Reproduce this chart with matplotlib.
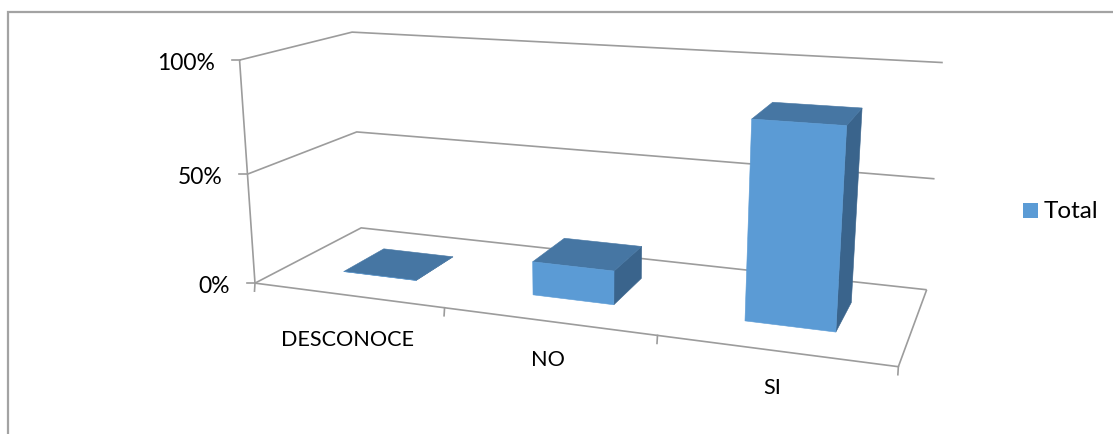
import matplotlib
matplotlib.use("Agg")
import matplotlib.pyplot as plt
from matplotlib.patches import Polygon, Rectangle
import numpy as np

categories = ["DESCONOCE", "NO", "SI"]
values = [0.0, 0.15, 0.84]
value_ticks = [0.0, 0.5, 1.0]
value_labels = ["0%", "50%", "100%"]
series_name = "Total"

FRONT = "#5B9BD5"
TOP = "#4676A3"
SIDE = "#3A648C"
GRID = "#9C9C9C"
FRAME = "#A3A3A3"

# where the chart box sits on the canvas, (category, depth, value) -> pixels
box_refs = [
    ((0, 0, 0), (255.4, 283.7)),
    ((1, 0, 0), (444.6, 309.5)),
    ((2, 0, 0), (657.0, 336.7)),
    ((3, 0, 0), (898.6, 367.3)),
    ((3, 1, 0), (926.8, 290.3)),
    ((0, 1, 0), (361.0, 229.0)),
    ((0, 0, 0.5), (247.5, 175.0)),
    ((0, 1, 0.5), (356.4, 133.0)),
    ((3, 1, 0.5), (934.6, 180.0)),
    ((0, 0, 1), (239.3, 61.0)),
    ((0, 1, 1), (352.5, 33.0)),
    ((3, 1, 1), (942.7, 63.7)),
]


def fit_camera(refs):
    rows = []
    for (x, y, z), (px, py) in refs:
        px, py = px / 500., py / 500.
        rows.append([x, y, z, 1, 0, 0, 0, 0, -px * x, -px * y, -px * z, -px])
        rows.append([0, 0, 0, 0, x, y, z, 1, -py * x, -py * y, -py * z, -py])
    _, _, vt = np.linalg.svd(np.array(rows, dtype=float))
    return vt[-1].reshape(3, 4)


camera = fit_camera(box_refs)


def project(x, y, z):
    p = camera @ np.array([x, y, z, 1.])
    return p[0] / p[2] * 500., p[1] / p[2] * 500.


plt.rcParams["font.family"] = ["Lato", "DejaVu Sans"]

fig = plt.figure(figsize=(11.13, 4.35), dpi=100)
ax = fig.add_axes([0, 0, 1, 1])
ax.set_xlim(0, 1113)
ax.set_ylim(435, 0)
ax.axis("off")

# outer chart frame, runs off the right and bottom
ax.plot([8, 8, 1113], [435, 13, 13], color=FRAME, lw=1.6, solid_joinstyle="miter")


def line3d(pts, lw=1.2):
    xy = np.array([project(*p) for p in pts])
    ax.plot(xy[:, 0], xy[:, 1], color=GRID, lw=lw, solid_capstyle="butt", zorder=1)


# gridlines on the side and back walls, then the floor
for v in value_ticks:
    line3d([(0, 0, v), (0, 1, v), (3, 1, v)])
line3d([(0, 0, 0), (0, 0, 1)])
line3d([(0, 0, 0), (3, 0, 0), (3, 1, 0)])

# tick marks
for v, lab in zip(value_ticks, value_labels):
    px, py = project(0, 0, v)
    ax.plot([px - 8, px], [py, py], color=GRID, lw=1.2, zorder=1)
    ax.text(px - 25, py + 2, lab, ha="right", va="center", fontsize=16.5, color="black")
for i in range(len(categories) + 1):
    px, py = project(i, 0, 0)
    ax.plot([px, px - 0.5], [py, py + 8], color=GRID, lw=1.2, zorder=1)

# bars
bar_lo, bar_hi = 0.305, 0.7
depth_lo, depth_hi = 0.3, 0.7


def face(corners, color, z):
    ax.add_patch(Polygon([project(*c) for c in corners], closed=True, facecolor=color,
                         edgecolor=color, lw=0.4, zorder=z))


for i, val in enumerate(values):
    u0, u1 = i + bar_lo, i + bar_hi
    face([(u1, depth_lo, 0), (u1, depth_hi, 0), (u1, depth_hi, val), (u1, depth_lo, val)], SIDE, 3)
    face([(u0, depth_lo, val), (u1, depth_lo, val), (u1, depth_hi, val), (u0, depth_hi, val)], TOP, 3)
    face([(u0, depth_lo, 0), (u1, depth_lo, 0), (u1, depth_lo, val), (u0, depth_lo, val)], FRONT, 4)

# category labels
label_xy = [(347.5, 340), (548, 360), (772.5, 388)]
for lab, (lx, ly) in zip(categories, label_xy):
    ax.text(lx, ly, lab, ha="center", va="center", fontsize=15.6, color="black")

# legend
ax.add_patch(Rectangle((1023, 204), 15, 15, facecolor=FRONT, edgecolor="none"))
ax.text(1044, 211.5, series_name, ha="left", va="center", fontsize=17.5, color="black")

fig.savefig("out.png", dpi=100)
